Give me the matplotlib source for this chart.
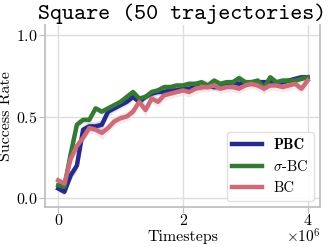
import numpy as np
import matplotlib
matplotlib.use('agg')
import matplotlib.pyplot as plt
from matplotlib.font_manager import FontProperties
from matplotlib.ticker import FuncFormatter

# timesteps, one eval every 0.1M
steps = np.arange(41) * 0.1e6

pbc = [0.06, 0.04, 0.14, 0.20, 0.42, 0.44, 0.44, 0.45, 0.53, 0.55,
       0.57, 0.59, 0.62, 0.59, 0.62, 0.64, 0.65, 0.65, 0.66, 0.66,
       0.67, 0.67, 0.68, 0.68, 0.69, 0.68, 0.68, 0.70, 0.71, 0.70,
       0.71, 0.70, 0.71, 0.71, 0.71, 0.70, 0.71, 0.72, 0.73, 0.74, 0.74]
sigma_bc = [0.08, 0.07, 0.27, 0.45, 0.48, 0.48, 0.55, 0.53, 0.55, 0.57,
            0.59, 0.62, 0.65, 0.61, 0.62, 0.65, 0.66, 0.68, 0.68, 0.69,
            0.69, 0.70, 0.70, 0.71, 0.69, 0.72, 0.70, 0.71, 0.71, 0.735,
            0.71, 0.71, 0.72, 0.675, 0.74, 0.71, 0.72, 0.72, 0.72, 0.73, 0.74]
bc = [0.11, 0.09, 0.24, 0.32, 0.37, 0.43, 0.42, 0.40, 0.43, 0.47,
      0.49, 0.50, 0.53, 0.59, 0.54, 0.61, 0.59, 0.63, 0.64, 0.65,
      0.66, 0.65, 0.67, 0.68, 0.68, 0.69, 0.67, 0.68, 0.68, 0.67,
      0.69, 0.70, 0.69, 0.67, 0.69, 0.69, 0.68, 0.69, 0.70, 0.67, 0.72]

# spread of the shaded bands
pbc_std = [0.02, 0.02, 0.03, 0.03, 0.03, 0.03, 0.03, 0.03, 0.03, 0.02,
           0.02, 0.02, 0.02, 0.02, 0.02, 0.02, 0.02, 0.02, 0.02, 0.02,
           0.02, 0.02, 0.02, 0.02, 0.02, 0.02, 0.02, 0.02, 0.02, 0.02,
           0.02, 0.02, 0.02, 0.02, 0.02, 0.02, 0.02, 0.02, 0.02, 0.02, 0.02]
sigma_std = [0.02, 0.02, 0.03, 0.03, 0.02, 0.02, 0.02, 0.02, 0.02, 0.02,
             0.02, 0.02, 0.02, 0.02, 0.02, 0.02, 0.02, 0.02, 0.02, 0.02,
             0.02, 0.02, 0.02, 0.02, 0.03, 0.02, 0.02, 0.02, 0.02, 0.03,
             0.02, 0.02, 0.02, 0.03, 0.02, 0.02, 0.02, 0.02, 0.02, 0.02, 0.02]
bc_std = [0.02, 0.02, 0.03, 0.03, 0.03, 0.03, 0.03, 0.04, 0.03, 0.03,
          0.03, 0.03, 0.03, 0.03, 0.04, 0.03, 0.03, 0.03, 0.03, 0.03,
          0.03, 0.03, 0.03, 0.03, 0.03, 0.03, 0.03, 0.03, 0.03, 0.03,
          0.03, 0.03, 0.03, 0.03, 0.03, 0.03, 0.03, 0.03, 0.03, 0.03, 0.03]

plt.rcParams['font.family'] = 'serif'
plt.rcParams['font.serif'] = ['cmr10']
plt.rcParams['mathtext.fontset'] = 'cm'
plt.rcParams['axes.formatter.use_mathtext'] = True
plt.rcParams['axes.unicode_minus'] = False

fig = plt.figure(figsize=(3.29, 2.47), dpi=100)
ax = fig.add_axes([0.137, 0.162, 0.836, 0.737])

series = [
    (pbc, pbc_std, '#29298a', 'PBC'),
    (sigma_bc, sigma_std, '#347a34', r'$\sigma$-BC'),
    (bc, bc_std, '#cc6b7a', 'BC'),
]
for vals, std, color, label in series:
    vals = np.array(vals)
    std = np.array(std)
    ax.fill_between(steps, vals - std, vals + std, color=color, alpha=0.15, lw=0)
    ax.plot(steps, vals, color=color, lw=3.2, label=label)

ax.set_xlim(-0.21e6, 4.2e6)
ax.set_ylim(-0.053, 1.06)
ax.set_xticks([0, 2e6, 4e6])
ax.set_yticks([0.0, 0.5, 1.0])
ax.xaxis.set_major_formatter(FuncFormatter(lambda v, p: '%d' % round(v / 1e6)))
ax.tick_params(labelsize=11.5, color='#bbbbbb', length=4, width=0.8, pad=1.5)
ax.grid(True, color='#dddddd', lw=1)
for side, sp in ax.spines.items():
    sp.set_color('#bbbbbb')
    sp.set_linewidth(1.2)
ax.spines['top'].set_visible(False)

ax.set_xlabel('Timesteps', fontsize=11.5, labelpad=1)
ax.set_ylabel('Success Rate', fontsize=11.5, labelpad=2)
ax.set_title('Square (50 trajectories)', family='cmtt10', fontsize=16.5, pad=4)
# scale factor sits next to the x label, as in the original
fig.text(0.975, 0.016, r'$\times10^{6}$', fontsize=11, ha='right', va='baseline')

leg = ax.legend(loc='lower right', fontsize=10.5, handlelength=2.0,
                framealpha=0.9, edgecolor='#dddddd', borderaxespad=0.4)
leg.get_texts()[0].set_fontproperties(FontProperties(family='cmb10', size=10.5))

fig.savefig('out.png', dpi=100)
